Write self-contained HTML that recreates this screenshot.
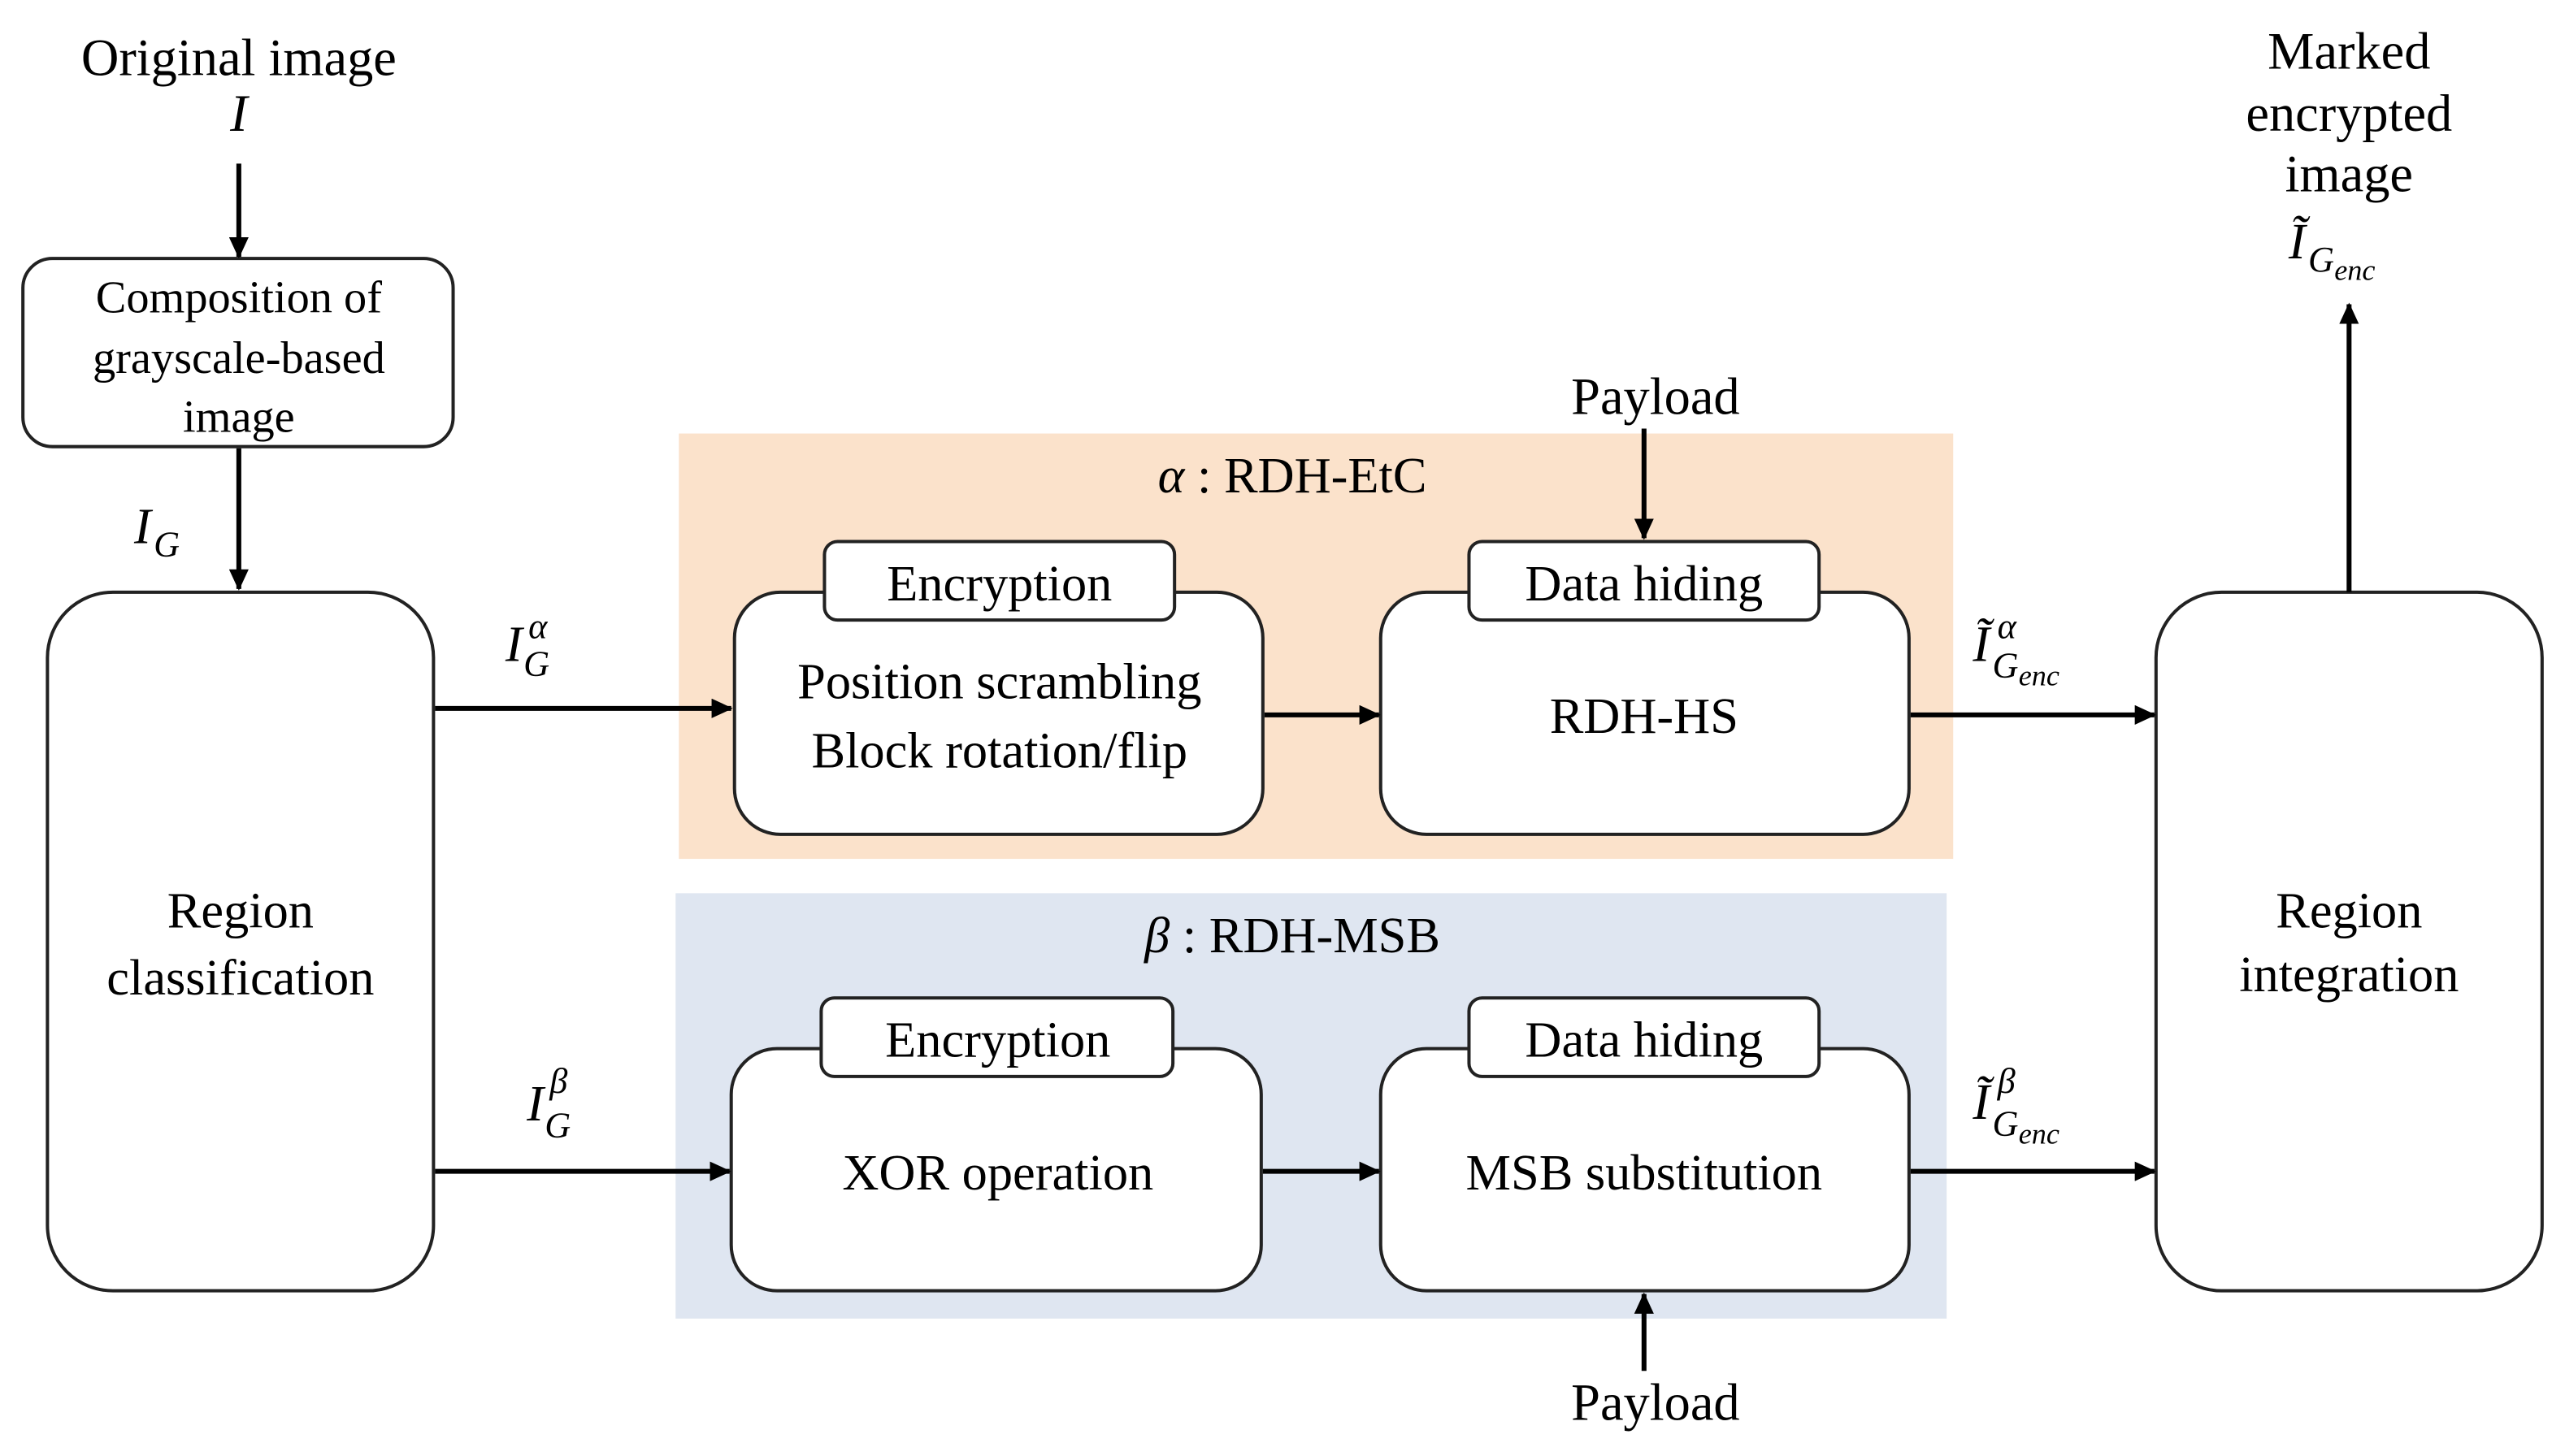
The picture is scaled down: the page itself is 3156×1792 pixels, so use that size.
<!DOCTYPE html>
<html><head><meta charset="utf-8"><style>
html,body{margin:0;padding:0;background:#fff;}
svg{display:block;}
svg text{font-family:"Liberation Serif","Times New Roman",Times,serif;fill:#000;}
.m{font-style:italic;}
</style></head><body>
<svg width="3156" height="1792" viewBox="0 0 1568 890" preserveAspectRatio="none" font-family="Liberation Serif, Times New Roman, serif">
<defs><marker id="a" markerWidth="13" markerHeight="12" refX="12" refY="6" orient="auto" markerUnits="userSpaceOnUse"><path d="M0,0 L13,6 L0,12 z" fill="#000"/></marker></defs>
<rect x="415" y="265" width="779" height="260" fill="#fbe2cb"/>
<rect x="413" y="546" width="777" height="260" fill="#dfe6f1"/>
<g fill="#fff" stroke="#222" stroke-width="2">
<rect x="14" y="158" width="263" height="115" rx="18"/>
<rect x="29" y="362" width="236" height="427" rx="40"/>
<rect x="1318" y="362" width="236" height="427" rx="40"/>
<rect x="449" y="362" width="323" height="148" rx="28"/>
<rect x="504" y="331" width="214" height="48" rx="8"/>
<rect x="844" y="362" width="323" height="148" rx="28"/>
<rect x="898" y="331" width="214" height="48" rx="8"/>
<rect x="447" y="641" width="324" height="148" rx="28"/>
<rect x="502" y="610" width="215" height="48" rx="8"/>
<rect x="844" y="641" width="323" height="148" rx="28"/>
<rect x="898" y="610" width="214" height="48" rx="8"/>
</g>
<g stroke="#000" stroke-width="3" marker-end="url(#a)">
<line x1="146" y1="100" x2="146" y2="157"/>
<line x1="146" y1="274" x2="146" y2="360"/>
<line x1="266" y1="433" x2="447" y2="433"/>
<line x1="773" y1="437" x2="843" y2="437"/>
<line x1="1168" y1="437" x2="1317" y2="437"/>
<line x1="266" y1="716" x2="446" y2="716"/>
<line x1="772" y1="716" x2="843" y2="716"/>
<line x1="1168" y1="716" x2="1317" y2="716"/>
<line x1="1005" y1="262" x2="1005" y2="329"/>
<line x1="1005" y1="838" x2="1005" y2="791"/>
<line x1="1436" y1="362" x2="1436" y2="186"/>
</g>
<g text-anchor="middle" font-size="32">
<text x="146" y="46">Original image</text>
<text x="146" y="80" class="m">I</text>
<text x="146" y="191" font-size="28">Composition of</text>
<text x="146" y="228" font-size="28">grayscale-based</text>
<text x="146" y="264" font-size="28">image</text>
<text x="147" y="567" font-size="31">Region</text>
<text x="147" y="608" font-size="31">classification</text>
<text x="1436" y="567" font-size="31">Region</text>
<text x="1436" y="606" font-size="31">integration</text>
<text x="1436" y="42">Marked</text>
<text x="1436" y="80">encrypted</text>
<text x="1436" y="117">image</text>
<text x="1012" y="253">Payload</text>
<text x="1012" y="868">Payload</text>
<text x="790" y="301" font-size="31"><tspan class="m">α</tspan> : RDH-EtC</text>
<text x="790" y="582" font-size="31"><tspan class="m">β</tspan> : RDH-MSB</text>
<text x="611" y="367" font-size="31">Encryption</text>
<text x="1005" y="367" font-size="31">Data hiding</text>
<text x="610" y="646" font-size="31">Encryption</text>
<text x="1005" y="646" font-size="31">Data hiding</text>
<text x="611" y="427" font-size="31">Position scrambling</text>
<text x="611" y="469" font-size="31">Block rotation/flip</text>
<text x="1005" y="448" font-size="31">RDH-HS</text>
<text x="610" y="727" font-size="31">XOR operation</text>
<text x="1005" y="727" font-size="31">MSB substitution</text>
</g>
<g font-size="31" class="m">
<text x="82" y="332">I</text><text x="94" y="340" font-size="22">G</text>
<text x="309" y="404">I</text><text x="320" y="413" font-size="22">G</text><text x="323" y="390" font-size="22">α</text>
<text x="322" y="685">I</text><text x="333" y="695" font-size="22">G</text><text x="336" y="668" font-size="22">β</text>
<text x="1206" y="404">Ĩ</text><text x="1218" y="414" font-size="22">G</text><text x="1234" y="419" font-size="18">enc</text><text x="1221" y="390" font-size="22">α</text>
<text x="1206" y="684">Ĩ</text><text x="1218" y="694" font-size="22">G</text><text x="1234" y="699" font-size="18">enc</text><text x="1221" y="668" font-size="22">β</text>
<text x="1399" y="158">Ĩ</text><text x="1411" y="166" font-size="22">G</text><text x="1427" y="171" font-size="18">enc</text>
</g>
</svg>
</body></html>
